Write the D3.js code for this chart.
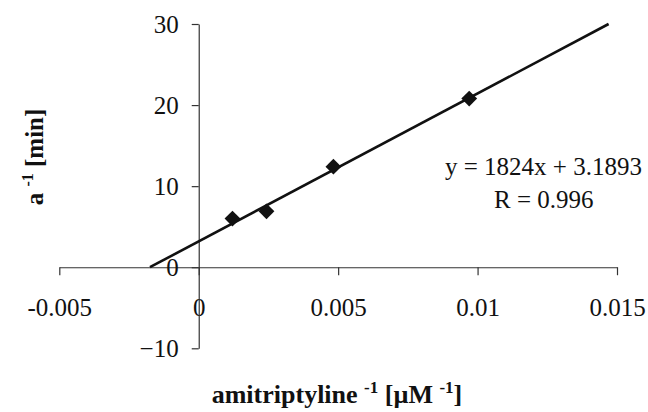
<!DOCTYPE html>
<html>
<head>
<meta charset="utf-8">
<script src="https://cdn.jsdelivr.net/npm/d3@7"></script>
<style>
  body { margin: 0; background: #fff; }
</style>
</head>
<body>
<div id="chart"></div>
<script>
// data
var xValues = [0.00121, 0.00243, 0.00483, 0.00970];
var yValues = [6.0, 6.9, 12.4, 20.8];
var xTicks = [-0.005, 0, 0.005, 0.01, 0.015];
var xTickLabels = ["-0.005", "0", "0.005", "0.01", "0.015"];
var yTicks = [-10, 0, 10, 20, 30];
var slope = 1824;
var intercept = 3.1893;
var rValue = "0.996";

var svgWidth = 648;
var svgHeight = 412;

var svg = d3.select("#chart").append("svg")
    .attr("width", svgWidth)
    .attr("height", svgHeight);

var xScale = d3.scaleLinear().domain([-0.005, 0.015]).range([59.3, 617]);
var yScale = d3.scaleLinear().domain([-10, 30]).range([348.3, 24]);

// x axis sits on y = 0
var bottomAxis = d3.axisBottom(xScale)
    .tickValues(xTicks)
    .tickFormat((d, i) => xTickLabels[i])
    .tickSizeInner(8)
    .tickSizeOuter(0)
    .tickPadding(23);

var xAxis = svg.append("g")
    .attr("transform", `translate(0, ${yScale(0)})`)
    .call(bottomAxis);

// y axis sits on x = 0
var leftAxis = d3.axisLeft(yScale)
    .tickValues(yTicks)
    .tickFormat(d3.format("d"))
    .tickSizeInner(7)
    .tickSizeOuter(0)
    .tickPadding(13);

var yAxis = svg.append("g")
    .attr("transform", `translate(${xScale(0)}, 0)`)
    .call(leftAxis);

[xAxis, yAxis].forEach(function(ax) {
    ax.selectAll("path").attr("stroke", "#333").attr("stroke-width", 1.2);
    ax.selectAll("line").attr("stroke", "#333").attr("stroke-width", 1.2);
    ax.selectAll("text")
        .style("font-family", "serif")
        .style("font-size", "25px")
        .attr("fill", "#111");
});

// trendline from y = 0 to y = 30
var x0 = (0 - intercept) / slope;
var x1 = (30 - intercept) / slope;
svg.append("line")
    .attr("x1", xScale(x0))
    .attr("y1", yScale(slope * x0 + intercept))
    .attr("x2", xScale(x1))
    .attr("y2", yScale(slope * x1 + intercept))
    .attr("stroke", "#111")
    .attr("stroke-width", 2.6);

// diamond markers
var points = xValues.map((x, i) => ({x: x, y: yValues[i]}));
svg.selectAll(".pt")
    .data(points)
    .enter()
    .append("path")
    .attr("class", "pt")
    .attr("d", d3.symbol(d3.symbolSquare, 125))
    .attr("transform", d => `translate(${xScale(d.x)}, ${yScale(d.y)}) rotate(45)`)
    .attr("fill", "#111");

// equation text
svg.append("text")
    .attr("x", 445)
    .attr("y", 175)
    .style("font-family", "serif")
    .style("font-size", "25px")
    .attr("fill", "#111")
    .text(`y = ${slope}x + ${intercept}`);

svg.append("text")
    .attr("x", 494)
    .attr("y", 208)
    .style("font-family", "serif")
    .style("font-size", "25px")
    .attr("fill", "#111")
    .text(`R = ${rValue}`);

// x axis label
var xLabel = svg.append("text")
    .attr("x", 337)
    .attr("y", 403)
    .attr("text-anchor", "middle")
    .style("font-family", "serif")
    .style("font-size", "26px")
    .style("font-weight", "bold")
    .attr("fill", "#111");
xLabel.append("tspan").text("amitriptyline ");
xLabel.append("tspan").attr("dy", -10).style("font-size", "17px").text("-1");
xLabel.append("tspan").attr("dy", 10).text(" [µM ");
xLabel.append("tspan").attr("dy", -10).style("font-size", "17px").text("-1");
xLabel.append("tspan").attr("dy", 10).text("]");

// y axis label
var yLabel = svg.append("text")
    .attr("transform", "translate(43, 157) rotate(-90)")
    .attr("text-anchor", "middle")
    .style("font-family", "serif")
    .style("font-size", "25px")
    .style("font-weight", "bold")
    .attr("fill", "#111");
yLabel.append("tspan").text("a ");
yLabel.append("tspan").attr("dy", -10).style("font-size", "16px").text("-1");
yLabel.append("tspan").attr("dy", 10).text(" [min]");
</script>
</body>
</html>
